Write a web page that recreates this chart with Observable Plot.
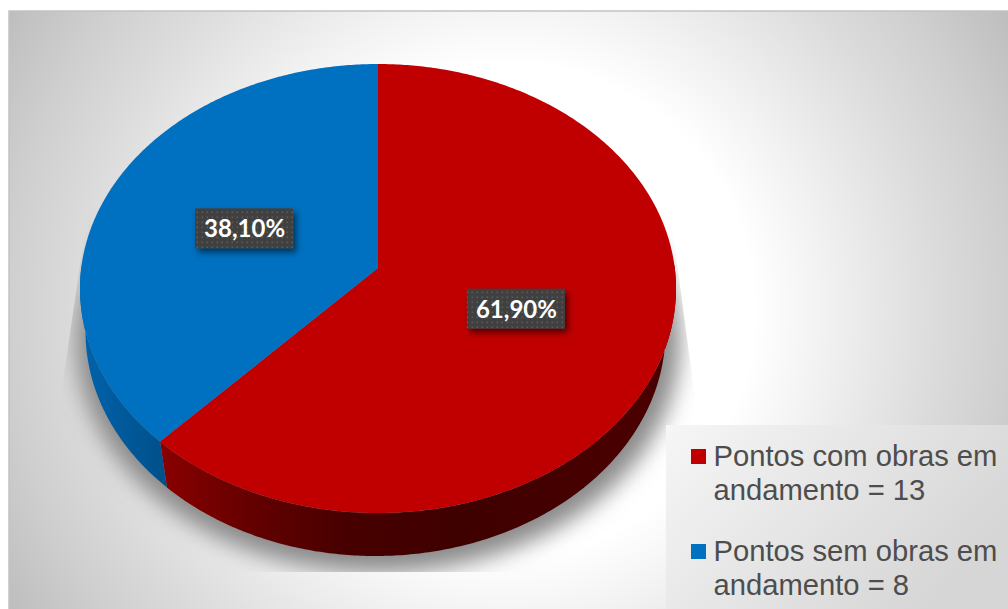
<!DOCTYPE html>
<html lang="pt">
<head>
<meta charset="utf-8">
<script src="https://cdn.jsdelivr.net/npm/d3@7"></script>
<script src="https://cdn.jsdelivr.net/npm/@observablehq/plot@0.6"></script>
<style>
  html, body { margin: 0; padding: 0; background: #fff; overflow: hidden; }
  svg { display: block; }
</style>
</head>
<body>
<div id="chart"></div>
<script>
// Works in progress, by site status
const categories = ["Pontos com obras em\nandamento", "Pontos sem obras em\nandamento"];
const counts = [13, 8];
const topColors = ["#c00000", "#0070c0"];
const wallFills = ["url(#wallRed)", "url(#wallBlue)"];

const W = 1008, H = 609;
const total = d3.sum(counts);
const shares = counts.map(c => c / total);

// Pie geometry: a tilted disc seen in perspective
const cx = 377.5, cy = 288, rx = 298, ry = 224.5;
const hubY = 267.5;        // perspective shifts the hub above the ellipse centre
const depth = 43;
const lowCx = 375, lowRx = 290;
const warpTop = 0.1065, warpLow = 0.08;   // angular stretch caused by the tilt

const rimTop = t => {
  const p = t - warpTop * Math.sin(t);
  return {x: cx + rx * Math.sin(p), y: cy - ry * Math.cos(p)};
};
const rimLow = t => {
  const p = t - warpLow * Math.sin(t);
  return {x: lowCx + lowRx * Math.sin(p), y: cy + depth - ry * Math.cos(p)};
};
const arc = (a, b, f) => {
  const n = Math.max(2, Math.ceil(Math.abs(b - a) / 0.01));
  return d3.range(n + 1).map(i => f(a + (b - a) * i / n));
};

// Slices run clockwise from twelve o'clock
let acc = 0;
const slices = shares.map((s, i) => {
  const a0 = acc * 2 * Math.PI;
  acc += s;
  const a1 = acc * 2 * Math.PI;
  return {i, a0, a1, mid: (a0 + a1) / 2, share: s};
});

const sector = s => [{x: cx, y: hubY}, ...arc(s.a0, s.a1, rimTop)];
const wall = s => {
  // Only the part of the rim facing the viewer (right to left extremes)
  const a = Math.max(s.a0, Math.PI / 2), b = Math.min(s.a1, 3 * Math.PI / 2);
  return [...arc(a, b, rimTop), ...arc(b, a, rimLow)];
};

const formatShare = s => (s * 100).toFixed(2).replace(".", ",") + "%";
const labelR = 0.49, boxW = 98, boxH = 40;
const labels = slices.map(s => ({
  x: cx + 2.5 + labelR * rx * Math.sin(s.mid),
  y: hubY + 1 - labelR * ry * Math.cos(s.mid),
  text: formatShare(s.share)
}));

const shadowOutline = arc(0, 2 * Math.PI, t => ({
  x: cx + 302 * Math.sin(t),
  y: cy + 52 - 232 * Math.cos(t)
}));

const legendRows = categories.map((c, i) => ({
  text: `${c} = ${counts[i]}`,
  color: topColors[i],
  y: [449, 544][i]
}));

// Gradients, pattern, filters and the shadow's clip, shared by the marks below
const defs = () => {
  const svg = d3.create("svg:g");
  const d = svg.append("defs");
  const linear = (id, x1, x2, stops) => {
    const g = d.append("linearGradient").attr("id", id)
      .attr("gradientUnits", "userSpaceOnUse")
      .attr("x1", x1).attr("x2", x2).attr("y1", 0).attr("y2", 0);
    stops.forEach(([o, c]) => g.append("stop").attr("offset", o).attr("stop-color", c));
  };
  linear("wallRed", 165, 670, [[0, "#880000"], [0.17, "#640000"], [0.36, "#470000"], [0.6, "#3f0000"], [1, "#4c0000"]]);
  linear("wallBlue", 85, 168, [[0, "#0062aa"], [1, "#004f88"]]);

  const bg = d.append("radialGradient").attr("id", "panelBg")
    .attr("gradientUnits", "userSpaceOnUse")
    .attr("cx", 508).attr("cy", 310).attr("r", 585);
  [[0, "#ffffff"], [0.42, "#ffffff"], [0.555, "#f0f0f0"], [0.73, "#dcdcdc"], [0.855, "#cfcfcf"], [1, "#bdbdbd"]]
    .forEach(([o, c]) => bg.append("stop").attr("offset", o).attr("stop-color", c));

  const lg = d.append("linearGradient").attr("id", "legendBg")
    .attr("x1", 0).attr("y1", 0).attr("x2", 1).attr("y2", 0.5);
  [[0, "#f6f6f6"], [1, "#d6d6d6"]]
    .forEach(([o, c]) => lg.append("stop").attr("offset", o).attr("stop-color", c));

  const p = d.append("pattern").attr("id", "labelDots")
    .attr("patternUnits", "userSpaceOnUse").attr("width", 5).attr("height", 5);
  p.append("rect").attr("width", 5).attr("height", 5).attr("fill", "#404040");
  p.append("rect").attr("x", 1.5).attr("y", 1.5).attr("width", 1.6).attr("height", 1.6).attr("fill", "#5c5c5c");

  const f = d.append("filter").attr("id", "pieShadow")
    .attr("filterUnits", "userSpaceOnUse")
    .attr("x", 0).attr("y", 0).attr("width", W).attr("height", H);
  f.append("feGaussianBlur").attr("stdDeviation", 11);

  // The cast shadow ends on a trapezoid, narrow at the far edge of the disc
  d.append("clipPath").attr("id", "shadowClip")
    .append("polygon").attr("points", "88,210 670,210 718,572 35,572");

  const s = d.append("filter").attr("id", "boxShadow")
    .attr("x", "-20%").attr("y", "-30%").attr("width", "140%").attr("height", "170%");
  s.append("feDropShadow").attr("dx", 3).attr("dy", 4).attr("stdDeviation", 3)
    .attr("flood-color", "#000").attr("flood-opacity", 0.55);
  return svg.node();
};

const panel = [{x1: 9, x2: W + 4, y1: 11, y2: H + 4}];
const legendPanel = [{x1: 666, x2: W, y1: 425, y2: H}];

const chart = Plot.plot({
  width: W,
  height: H,
  margin: 0,
  x: {domain: [0, W], range: [0, W], axis: null},
  y: {domain: [0, H], range: [0, H], axis: null},
  style: {background: "#fff", overflow: "hidden"},
  marks: [
    defs,
    Plot.rect(panel, {x1: "x1", x2: "x2", y1: "y1", y2: "y2", fill: "url(#panelBg)", stroke: "#c2c2c2", strokeWidth: 1.5}),
    Plot.line(shadowOutline, {
      x: "x", y: "y", fill: "#8a8a8a", stroke: "none", imageFilter: "url(#pieShadow)",
      render(index, scales, values, dimensions, context, next) {
        const g = next(index, scales, values, dimensions, context);
        const holder = d3.create("svg:g").attr("clip-path", "url(#shadowClip)");
        holder.node().append(g);
        return holder.node();
      }
    }),
    ...slices.map(s => Plot.line(wall(s), {x: "x", y: "y", fill: wallFills[s.i], stroke: "none"})),
    ...slices.map(s => Plot.line(sector(s), {x: "x", y: "y", fill: topColors[s.i], stroke: "none"})),
    Plot.rect(labels, {
      x1: d => d.x - boxW / 2, x2: d => d.x + boxW / 2,
      y1: d => d.y - boxH / 2, y2: d => d.y + boxH / 2,
      fill: "url(#labelDots)", imageFilter: "url(#boxShadow)"
    }),
    Plot.text(labels, {
      x: "x", y: d => d.y + 1, text: "text", fill: "#fff",
      fontFamily: "Lato", fontWeight: 700, fontSize: 24
    }),
    Plot.rect(legendPanel, {x1: "x1", x2: "x2", y1: "y1", y2: "y2", fill: "url(#legendBg)"}),
    Plot.rect(legendRows, {
      x1: () => 691, x2: () => 706,
      y1: "y", y2: d => d.y + 15,
      fill: "color"
    }),
    Plot.text(legendRows, {
      x: () => 713, y: d => d.y - 8, text: "text",
      textAnchor: "start", lineAnchor: "top", lineHeight: 1.165,
      fill: "#4d4d4d", fontFamily: "Liberation Sans", fontSize: 29.2
    })
  ]
});
document.getElementById("chart").append(chart);
</script>
</body>
</html>
